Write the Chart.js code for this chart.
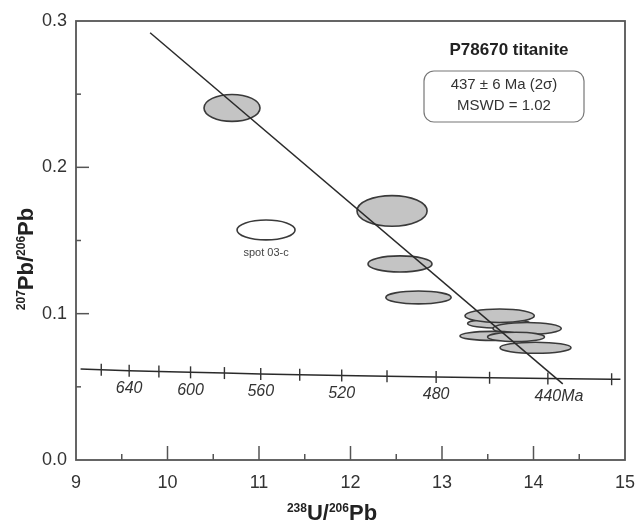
<!DOCTYPE html>
<html lang="en">
<head>
    <meta charset="UTF-8">
    <title>P78670 titanite Tera-Wasserburg</title>
    <script src="https://cdn.jsdelivr.net/npm/chart.js"></script>
    <style>
        body {
            margin: 0;
            background: #fff;
        }
    </style>
</head>
<body>
    <canvas id="tw" width="636" height="528"></canvas>

    <script>
        // 2-sigma ellipses: centre and half-axes, in data units (drawn in this order)
        const ellX  = [10.705, 12.454, 12.541, 12.743, 13.62, 13.63, 13.93, 13.546, 13.809, 14.022];
        const ellY  = [0.2406, 0.1702, 0.1340, 0.1111, 0.0933, 0.0986, 0.0899, 0.0848, 0.0841, 0.0767];
        const ellSx = [0.306, 0.383, 0.350, 0.357, 0.340, 0.379, 0.373, 0.350, 0.311, 0.388];
        const ellSy = [0.0092, 0.0105, 0.0055, 0.0044, 0.0032, 0.0046, 0.0041, 0.0031, 0.0032, 0.0038];

        // excluded analysis
        const spotX = [11.077];
        const spotY = [0.1572];
        const spotSx = [0.317];
        const spotSy = [0.0068];
        const spotLabel = 'spot 03-c';

        // regression line
        const fitX = [9.81, 14.32];
        const fitY = [0.292, 0.052];

        // concordia curve
        const concX = [9.05, 9.276, 9.581, 9.906, 10.252, 10.622, 11.019, 11.445, 11.904, 12.399, 12.936, 13.520, 14.157, 14.854, 14.95];
        const concY = [0.0622, 0.0616, 0.0610, 0.0605, 0.0599, 0.0594, 0.0588, 0.0583, 0.0577, 0.0572, 0.0567, 0.0562, 0.0557, 0.0552, 0.0551];

        // age ticks on concordia (Ma)
        const tickAge = [660, 640, 620, 600, 580, 560, 540, 520, 500, 480, 460, 440, 420];
        const tickX = [9.276, 9.581, 9.906, 10.252, 10.622, 11.019, 11.445, 11.904, 12.399, 12.936, 13.520, 14.157, 14.854];
        const tickY = [0.0616, 0.0610, 0.0605, 0.0599, 0.0594, 0.0588, 0.0583, 0.0577, 0.0572, 0.0567, 0.0562, 0.0557, 0.0552];
        const labelAges = [640, 600, 560, 520, 480, 440];

        const xTicks = [9, 10, 11, 12, 13, 14, 15];
        const yTicks = [0.0, 0.1, 0.2, 0.3];

        const sampleName = 'P78670 titanite';
        const resultLines = ['437 \u00b1 6 Ma (2\u03c3)', 'MSWD = 1.02'];

        const FONT = '"Liberation Sans", Arial, sans-serif';
        const INK = '#333';

        function pts(xs, ys) {
            return xs.map((x, i) => ({ x: x, y: ys[i] }));
        }

        // draws pieces of text with superscripts, centred on cx
        function drawSupText(ctx, parts, cx, cy) {
            let total = 0;
            parts.forEach(p => {
                ctx.font = p.sup ? 'bold 12px ' + FONT : 'bold 22px ' + FONT;
                p.w = ctx.measureText(p.t).width;
                total += p.w;
            });
            let x = cx - total / 2;
            ctx.textAlign = 'left';
            ctx.textBaseline = 'alphabetic';
            parts.forEach(p => {
                ctx.font = p.sup ? 'bold 12px ' + FONT : 'bold 22px ' + FONT;
                ctx.fillText(p.t, x, p.sup ? cy - 8 : cy);
                x += p.w;
            });
        }

        function roundRect(ctx, x, y, w, h, r) {
            ctx.beginPath();
            ctx.moveTo(x + r, y);
            ctx.arcTo(x + w, y, x + w, y + h, r);
            ctx.arcTo(x + w, y + h, x, y + h, r);
            ctx.arcTo(x, y + h, x, y, r);
            ctx.arcTo(x, y, x + w, y, r);
            ctx.closePath();
        }

        const overlay = {
            id: 'overlay',
            beforeDatasetsDraw(chart) {
                const ctx = chart.ctx;
                const xs = chart.scales.x, ys = chart.scales.y;
                const ellipse = (x, y, sx, sy, fill) => {
                    const px = xs.getPixelForValue(x);
                    const py = ys.getPixelForValue(y);
                    const rx = Math.abs(xs.getPixelForValue(x + sx) - px);
                    const ry = Math.abs(ys.getPixelForValue(y + sy) - py);
                    ctx.beginPath();
                    ctx.ellipse(px, py, rx, ry, 0, 0, Math.PI * 2);
                    ctx.fillStyle = fill;
                    ctx.fill();
                    ctx.lineWidth = 1.6;
                    ctx.strokeStyle = '#3a3a3a';
                    ctx.stroke();
                };
                ctx.save();
                for (let i = 0; i < ellX.length; i++) {
                    ellipse(ellX[i], ellY[i], ellSx[i], ellSy[i], '#c4c4c4');
                }
                for (let i = 0; i < spotX.length; i++) {
                    ellipse(spotX[i], spotY[i], spotSx[i], spotSy[i], '#ffffff');
                    ctx.fillStyle = '#444';
                    ctx.font = '11px ' + FONT;
                    ctx.textAlign = 'center';
                    ctx.textBaseline = 'middle';
                    ctx.fillText(spotLabel, xs.getPixelForValue(spotX[i]),
                        ys.getPixelForValue(spotY[i] - spotSy[i]) + 13);
                }
                ctx.restore();
            },
            afterDatasetsDraw(chart) {
                const ctx = chart.ctx;
                const xs = chart.scales.x, ys = chart.scales.y;
                ctx.save();
                ctx.strokeStyle = INK;
                ctx.lineWidth = 1.4;
                ctx.fillStyle = INK;
                ctx.font = 'italic 16px ' + FONT;
                ctx.textBaseline = 'middle';
                tickAge.forEach((age, i) => {
                    const px = xs.getPixelForValue(tickX[i]);
                    const py = ys.getPixelForValue(tickY[i]);
                    ctx.beginPath();
                    ctx.moveTo(px, py - 6);
                    ctx.lineTo(px, py + 6);
                    ctx.stroke();
                    if (labelAges.includes(age)) {
                        const t = String(age);
                        const w = ctx.measureText(t).width;
                        ctx.textAlign = 'left';
                        ctx.fillText(age === 440 ? t + 'Ma' : t, px - w / 2, py + 18);
                    }
                });
                ctx.restore();
            },
            afterDraw(chart) {
                const ctx = chart.ctx;
                const a = chart.chartArea;
                const xs = chart.scales.x, ys = chart.scales.y;
                ctx.save();

                // frame
                ctx.strokeStyle = '#555';
                ctx.lineWidth = 1.8;
                ctx.strokeRect(a.left, a.top, a.right - a.left, a.bottom - a.top);

                // inward ticks
                ctx.lineWidth = 1.5;
                xs.ticks.forEach(t => {
                    const v = t.value;
                    if (v <= xs.min || v >= xs.max) return;
                    const major = Math.abs(v - Math.round(v)) < 1e-6;
                    const px = xs.getPixelForValue(v);
                    ctx.beginPath();
                    ctx.moveTo(px, a.bottom);
                    ctx.lineTo(px, a.bottom - (major ? 14 : 6));
                    ctx.stroke();
                });
                ys.ticks.forEach(t => {
                    const v = t.value;
                    if (v <= ys.min || v >= ys.max - 1e-9) return;
                    const major = Math.abs(v * 10 - Math.round(v * 10)) < 1e-6;
                    const py = ys.getPixelForValue(v);
                    ctx.beginPath();
                    ctx.moveTo(a.left, py);
                    ctx.lineTo(a.left + (major ? 13 : 5), py);
                    ctx.stroke();
                });

                // axis titles
                ctx.fillStyle = '#222';
                drawSupText(ctx, [
                    { t: '238', sup: true }, { t: 'U/' },
                    { t: '206', sup: true }, { t: 'Pb' }
                ], 332, 520);
                ctx.save();
                ctx.translate(33, 259);
                ctx.rotate(-Math.PI / 2);
                drawSupText(ctx, [
                    { t: '207', sup: true }, { t: 'Pb/' },
                    { t: '206', sup: true }, { t: 'Pb' }
                ], 0, 0);
                ctx.restore();

                // sample name and result box
                ctx.fillStyle = '#222';
                ctx.font = 'bold 17px ' + FONT;
                ctx.textAlign = 'center';
                ctx.textBaseline = 'middle';
                ctx.fillText(sampleName, 509, 50);

                roundRect(ctx, 424, 71, 160, 51, 10);
                ctx.strokeStyle = '#777';
                ctx.lineWidth = 1.2;
                ctx.stroke();
                ctx.fillStyle = INK;
                ctx.font = '15px ' + FONT;
                ctx.fillText(resultLines[0], 504, 85);
                ctx.fillText(resultLines[1], 504, 106);

                ctx.restore();
            }
        };

        new Chart(document.getElementById('tw'), {
            type: 'scatter',
            data: {
                datasets: [{
                    label: 'Regression',
                    data: pts(fitX, fitY),
                    showLine: true,
                    borderColor: '#2a2a2a',
                    borderWidth: 1.5,
                    pointRadius: 0
                }, {
                    label: 'Concordia',
                    data: pts(concX, concY),
                    showLine: true,
                    borderColor: '#2a2a2a',
                    borderWidth: 1.5,
                    pointRadius: 0
                }]
            },
            options: {
                responsive: false,
                animation: false,
                devicePixelRatio: 1,
                layout: {
                    padding: { left: 0, right: 11, top: 21, bottom: 0 }
                },
                plugins: {
                    legend: { display: false },
                    tooltip: { enabled: false }
                },
                scales: {
                    x: {
                        type: 'linear',
                        min: 9,
                        max: 15,
                        grid: { display: false, drawTicks: false },
                        border: { display: false },
                        ticks: {
                            stepSize: 0.5,
                            autoSkip: false,
                            maxRotation: 0,
                            padding: 12,
                            color: INK,
                            font: { size: 18, family: FONT },
                            callback: v => xTicks.includes(v) ? String(v) : ''
                        },
                        afterFit: s => {
                            s.height = 68;
                            s.paddingLeft = 0;
                            s.paddingRight = 0;
                        }
                    },
                    y: {
                        min: 0,
                        max: 0.3,
                        grid: { display: false, drawTicks: false },
                        border: { display: false },
                        ticks: {
                            stepSize: 0.05,
                            autoSkip: false,
                            padding: 9,
                            color: INK,
                            font: { size: 18, family: FONT },
                            callback: v => yTicks.some(t => Math.abs(t - v) < 1e-6) ? v.toFixed(1) : ''
                        },
                        afterFit: s => {
                            s.width = 76;
                            s.paddingTop = 0;
                            s.paddingBottom = 0;
                        }
                    }
                }
            },
            plugins: [overlay]
        });
    </script>
</body>
</html>
